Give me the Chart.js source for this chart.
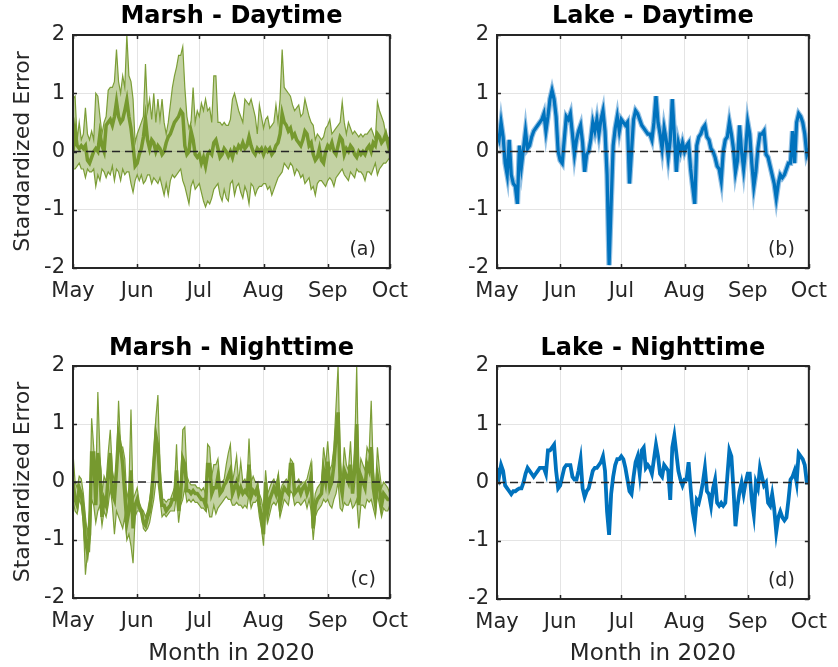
<!DOCTYPE html>
<html>
<head>
<meta charset="utf-8">
<script src="https://cdn.jsdelivr.net/npm/chart.js@4.4.1/dist/chart.umd.min.js"></script>
<style>
  html, body { margin:0; padding:0; background:#fff; }
  #wrap { position:relative; width:838px; height:667px; overflow:hidden; }
  canvas { position:absolute; }
</style>
</head>
<body>
<div id="wrap">
  <canvas id="cA" width="419" height="333" style="left:0;top:0"></canvas>
  <canvas id="cB" width="419" height="333" style="left:419px;top:0"></canvas>
  <canvas id="cC" width="419" height="334" style="left:0;top:333px"></canvas>
  <canvas id="cD" width="419" height="334" style="left:419px;top:333px"></canvas>
</div>
<script>
// ---------------- DATA ----------------
const monthTicks = [0, 31, 61, 92, 123, 153];
const monthLabels = ['May', 'Jun', 'Jul', 'Aug', 'Sep', 'Oct'];
const yTicks = [-2, -1, 0, 1, 2];
const panelTitles = ['Marsh - Daytime', 'Lake - Daytime', 'Marsh - Nighttime', 'Lake - Nighttime'];
const panelLabels = ['(a)', '(b)', '(c)', '(d)'];
const yAxisTitle = 'Stardardized Error';
const xAxisTitle = 'Month in 2020';

const marshDayMid = [0.0,0.35,0.1,0.05,0.1,0.05,0.1,-0.15,-0.2,-0.1,
0.0,0.05,0.0,0.3,0.1,0.0,0.45,0.5,0.55,0.45,
0.6,0.85,0.6,0.5,0.55,0.7,0.88,0.6,0.4,0.1,
-0.25,-0.2,-0.05,0.05,0.25,0.55,0.2,0.05,0.2,0.15,
0.0,0.1,0.05,-0.05,0.0,0.15,0.25,0.3,0.4,0.5,
0.55,0.6,0.7,0.65,0.1,-0.05,0.0,0.35,0.2,-0.05,
-0.1,-0.05,-0.2,-0.1,-0.25,-0.05,0.0,-0.05,0.15,0.2,
0.05,-0.1,-0.05,0.05,0.0,-0.08,0.0,-0.1,0.05,0.0,
0.1,0.05,0.15,0.05,0.1,0.25,0.1,0.0,-0.05,0.05,
0.0,0.05,-0.05,0.05,0.0,0.05,-0.05,0.0,0.1,0.15,
0.3,0.65,0.5,0.45,0.35,0.4,0.25,0.3,0.2,0.15,
0.1,0.2,0.35,0.3,0.1,0.15,-0.05,-0.15,-0.1,0.05,
-0.15,-0.2,0.0,0.1,0.05,0.15,0.0,-0.05,0.1,0.25,
0.2,-0.05,0.05,0.0,0.1,0.05,-0.05,-0.1,0.0,-0.05,
0.0,-0.05,0.05,0.1,0.0,0.15,0.1,0.3,0.25,0.15,
0.2,0.3,0.15,0.0];

const marshDayUp = [0.9,0.95,0.2,0.5,0.2,0.3,0.75,0.3,0.2,0.35,
0.2,1.0,0.95,0.6,0.3,0.5,0.6,1.05,1.1,1.1,
1.2,1.75,1.2,1.0,1.3,1.1,2.0,1.3,1.2,0.9,
0.15,0.3,0.4,0.5,0.6,1.5,0.7,0.9,0.55,1.0,
0.5,0.9,0.55,0.9,0.5,0.3,0.5,0.8,1.1,1.3,
1.45,1.65,1.65,1.8,1.1,0.6,0.4,0.5,1.1,0.5,
0.7,0.6,0.83,0.7,0.9,0.7,0.75,0.5,1.3,1.3,
0.5,0.5,0.45,0.5,0.45,0.45,0.55,0.9,1.0,0.85,
0.7,0.6,0.5,0.9,0.85,0.8,0.9,0.75,0.6,0.3,
0.8,0.6,0.4,0.55,0.6,0.4,0.45,0.5,0.8,0.5,
0.9,1.75,1.1,1.05,1.0,0.95,0.8,0.7,0.75,0.8,
0.6,0.65,0.9,0.75,0.6,0.5,0.45,0.2,0.3,0.25,
0.2,0.25,0.4,0.45,0.55,0.3,0.35,0.4,0.45,0.5,
0.85,0.5,0.3,0.5,0.4,0.3,0.35,0.3,0.25,0.3,
0.25,0.3,0.3,0.35,0.4,0.3,0.2,0.85,0.7,0.6,
0.5,0.3,0.25,0.2];

const marshDayLo = [-0.3,-0.3,-0.25,-0.2,-0.3,-0.3,-0.45,-0.3,-0.35,-0.35,
-0.3,-0.6,-0.4,-0.5,-0.3,-0.35,-0.45,-0.35,-0.4,-0.25,
-0.5,-0.3,-0.35,-0.5,-0.3,-0.4,-0.35,-0.35,-0.55,-0.7,
-0.5,-0.4,-0.5,-0.4,-0.55,-0.5,-0.4,-0.4,-0.55,-0.45,
-0.5,-0.55,-0.45,-0.6,-0.75,-0.55,-0.75,-0.5,-0.4,-0.45,
-0.4,-0.35,-0.3,-0.5,-0.6,-0.75,-0.9,-0.6,-0.5,-0.65,
-0.6,-0.55,-0.7,-0.85,-0.95,-0.85,-0.9,-0.8,-0.65,-0.6,
-0.55,-0.75,-0.85,-0.65,-0.8,-0.85,-0.55,-0.5,-0.75,-0.6,
-0.55,-0.7,-0.8,-0.6,-0.7,-0.9,-0.55,-0.6,-0.75,-0.65,
-0.6,-0.6,-0.55,-0.55,-0.65,-0.6,-0.75,-0.65,-0.55,-0.45,
-0.4,-0.35,-0.2,-0.25,-0.3,-0.2,-0.25,-0.4,-0.3,-0.35,
-0.45,-0.4,-0.55,-0.5,-0.45,-0.65,-0.6,-0.75,-0.55,-0.5,
-0.5,-0.55,-0.6,-0.5,-0.45,-0.5,-0.6,-0.45,-0.4,-0.35,
-0.3,-0.4,-0.45,-0.5,-0.35,-0.4,-0.45,-0.3,-0.35,-0.35,
-0.4,-0.5,-0.35,-0.35,-0.4,-0.3,-0.2,-0.4,-0.3,-0.25,
-0.2,-0.2,-0.15,-0.1];

const lakeDay = [0.3,0.2,0.5,0.25,-0.2,-0.4,0.2,-0.4,-0.55,-0.6,
-0.9,0.1,-0.25,0.05,0.35,0.05,0.1,0.25,0.35,0.4,
0.45,0.5,0.55,0.65,0.35,0.6,0.9,1.05,0.9,0.6,
0.0,-0.15,-0.2,0.2,0.6,0.55,0.65,0.3,-0.05,0.2,
0.35,0.45,0.15,-0.35,-0.05,0.0,0.2,0.5,0.35,0.55,
0.3,0.55,0.7,0.35,-0.4,-1.95,-0.9,0.1,0.4,0.6,
0.35,0.55,0.5,0.45,0.5,-0.55,0.0,0.55,0.7,0.65,
0.55,0.45,0.4,0.35,0.3,0.3,0.2,0.5,0.95,0.5,
0.3,0.05,0.4,0.2,-0.1,0.2,0.9,0.3,-0.35,0.15,
0.0,0.15,0.0,0.1,0.15,-0.3,-0.6,-0.9,0.1,0.25,
0.3,0.4,0.45,0.25,0.2,0.05,0.0,-0.1,-0.25,-0.3,
-0.5,0.0,0.2,0.25,0.5,0.3,0.05,-0.35,-0.15,0.45,
0.0,-0.3,0.05,0.5,0.3,-0.2,-0.6,-0.35,0.05,0.3,
0.3,0.35,-0.05,-0.1,-0.25,-0.4,-0.55,-0.8,-0.55,-0.4,
-0.45,-0.4,-0.3,-0.2,-0.2,0.35,-0.2,0.5,0.65,0.6,
0.5,0.3,-0.05,0.05];

const marshNightMid = [0.0,-0.3,-0.4,-0.1,-0.2,-0.5,-1.0,-1.2,-0.9,0.5,
0.5,-0.4,0.5,0.2,-0.6,-0.3,-0.4,0.1,0.5,-0.2,
-0.3,0.2,0.8,0.6,0.3,-0.2,-0.7,-0.5,0.2,-0.8,
-0.4,-0.3,-0.45,-0.5,-0.7,-0.75,-0.6,-0.5,-0.2,0.3,
0.8,0.6,0.0,-0.4,-0.4,-0.5,-0.45,-0.4,-0.3,-0.3,
0.2,-0.5,-0.2,0.4,0.3,-0.15,-0.15,-0.2,-0.15,-0.2,
-0.2,-0.25,-0.3,-0.3,-0.4,0.3,0.3,-0.2,-0.1,-0.1,
0.1,-0.2,-0.15,-0.05,0.0,0.1,0.2,-0.2,-0.1,0.0,
-0.2,-0.1,-0.2,-0.15,-0.2,0.3,-0.25,-0.15,-0.2,-0.1,
-0.4,-0.6,-0.9,0.0,-0.5,-0.3,-0.2,-0.1,-0.2,0.0,
-0.4,-0.2,-0.1,-0.15,-0.2,0.3,0.3,-0.2,-0.15,-0.1,
-0.2,-0.1,-0.05,-0.2,-0.1,0.1,-0.8,-0.4,-0.3,-0.25,
-0.2,0.2,0.0,0.35,-0.1,0.0,0.3,0.8,1.2,0.0,
-0.2,0.2,0.1,0.0,0.3,-0.2,0.2,1.0,-0.4,0.1,
0.0,-0.1,0.3,0.2,0.6,-0.1,-0.35,0.1,-0.1,-0.4,
-0.2,-0.25,-0.3,-0.3];

const marshNightUp = [0.5,0.0,-0.1,0.1,0.05,-0.2,-0.6,-0.9,-0.5,1.1,
0.6,0.0,1.55,0.5,-0.2,0.1,0.0,0.5,0.9,0.2,
0.0,0.3,1.4,0.6,0.6,0.4,-0.3,-0.1,1.25,-0.3,
-0.2,-0.1,-0.35,-0.45,-0.5,-0.6,-0.5,-0.3,0.0,0.5,
1.1,1.5,0.3,-0.3,-0.3,-0.35,-0.3,-0.3,-0.2,-0.1,
0.65,-0.3,0.0,0.9,0.95,0.1,0.0,-0.05,-0.05,-0.05,
-0.1,-0.1,-0.15,-0.1,-0.2,0.65,0.6,0.1,0.3,0.3,
0.4,0.0,0.0,0.05,0.3,0.5,0.65,0.0,0.2,0.45,
0.0,0.35,0.0,0.05,-0.05,0.75,0.0,0.1,0.0,0.0,
-0.2,-0.3,-0.5,0.2,-0.2,-0.1,0.0,0.05,-0.05,0.1,
-0.2,-0.05,0.0,0.05,0.0,0.4,0.35,0.0,0.0,0.05,
-0.05,0.0,0.0,0.05,0.2,0.35,-0.5,-0.2,-0.1,-0.05,
0.0,0.6,0.3,0.7,0.2,0.3,0.6,1.3,2.0,0.4,
0.0,0.6,0.3,0.2,0.7,0.0,0.5,2.0,0.0,0.4,
0.3,0.2,0.6,0.5,1.4,0.2,-0.2,0.6,0.2,-0.1,
0.0,-0.05,-0.1,-0.2];

const marshNightLo = [-0.3,-0.5,-0.55,-0.3,-0.4,-0.7,-1.6,-1.2,-1.2,-0.3,
-0.4,-0.7,-0.5,-0.4,-0.75,-0.5,-0.6,-0.4,-0.1,-0.4,
-0.9,-0.5,-0.6,-0.7,-0.8,-0.6,-1.0,-0.9,-1.1,-1.4,
-0.6,-0.5,-0.5,-0.55,-0.8,-0.85,-0.8,-0.7,-0.5,-0.3,
0.0,0.0,-0.3,-0.6,-0.55,-0.6,-0.55,-0.5,-0.5,-0.5,
-0.2,-0.7,-0.4,-0.3,-0.1,-0.35,-0.3,-0.35,-0.3,-0.35,
-0.35,-0.4,-0.45,-0.45,-0.5,-0.4,-0.6,-0.6,-0.4,-0.55,
-0.45,-0.4,-0.35,-0.3,-0.25,-0.3,-0.3,-0.4,-0.4,-0.35,
-0.4,-0.4,-0.45,-0.4,-0.45,-0.2,-0.45,-0.35,-0.35,-0.3,
-0.6,-0.8,-1.1,-0.4,-0.7,-0.55,-0.4,-0.35,-0.4,-0.3,
-0.6,-0.45,-0.3,-0.35,-0.4,-0.15,-0.2,-0.4,-0.35,-0.35,
-0.4,-0.35,-0.3,-0.45,-0.3,-0.5,-1.0,-0.6,-0.5,-0.45,
-0.4,-0.3,-0.35,-0.3,-0.4,-0.45,-0.3,-0.2,0.0,-0.45,
-0.5,-0.35,-0.4,-0.4,-0.3,-0.45,-0.4,-0.3,-0.8,-0.4,
-0.4,-0.45,-0.3,-0.35,-0.3,-0.45,-0.6,-0.2,-0.4,-0.6,
-0.45,-0.5,-0.5,-0.4];

const lakeNight = [0.25,0.1,0.3,0.2,-0.05,-0.1,-0.15,-0.2,-0.15,-0.15,
-0.12,-0.1,-0.1,0.0,0.15,0.25,0.2,0.15,0.1,0.15,
0.2,0.25,0.25,0.25,0.15,0.55,0.55,0.6,0.65,0.2,
-0.1,-0.05,0.1,0.25,0.3,0.3,0.3,0.1,0.05,0.05,
0.2,0.4,-0.1,-0.25,-0.15,-0.1,0.05,0.2,0.25,0.25,
0.3,0.35,0.45,0.2,-0.5,-0.9,-0.2,0.1,0.3,0.4,
0.4,0.45,0.4,0.25,0.05,-0.15,-0.2,0.1,0.35,0.45,
0.15,0.55,0.6,0.25,0.3,0.25,0.15,0.4,0.65,0.45,
0.15,0.1,0.3,0.25,0.2,-0.3,0.6,0.8,0.5,0.2,
0.05,-0.05,0.05,0.05,0.35,-0.1,-0.5,-0.7,-0.3,-0.35,
-0.2,0.0,0.25,-0.15,-0.2,-0.4,-0.1,0.05,-0.35,-0.4,
-0.35,-0.4,-0.35,0.1,0.55,0.45,-0.1,-0.75,-0.4,-0.15,
0.0,-0.2,0.0,0.15,0.15,-0.3,-0.55,0.0,-0.1,0.25,
0.1,-0.05,0.0,-0.35,-0.4,-0.2,-0.45,-0.85,-0.6,-0.5,
-0.6,-0.65,-0.6,-0.3,0.05,0.1,0.2,0.0,0.5,0.45,
0.4,0.3,0.0,0.0];

const zeroLine = [0, 0];

// ---------------- RENDER ----------------
const FONT = '"DejaVu Sans", "Liberation Sans", Arial, sans-serif';
const TXT = '#262626';
const GREEN = '#76992f';
const GREEN_EDGE = '#7c9e37';
const GREEN_FILL = 'rgba(122,156,52,0.45)';
const BLUE = '#0072BD';

const toXY = arr => arr.map((v, i) => ({ x: i, y: v }));
const zeroXY = zeroLine.map((v, i) => ({ x: monthTicks[i * (monthTicks.length - 1)], y: v }));

const framePlugin = {
  id: 'frame',
  afterDatasetsDraw(chart, args, opts) {
    const { ctx, chartArea: a, scales } = chart;
    const x = scales.x, y = scales.y;
    ctx.save();
    ctx.strokeStyle = TXT;
    ctx.lineWidth = 1.5;
    ctx.beginPath();
    x.ticks.forEach(t => {
      const px = Math.round(x.getPixelForValue(t.value)) + 0.5;
      ctx.moveTo(px, a.bottom); ctx.lineTo(px, a.bottom - 4);
      ctx.moveTo(px, a.top); ctx.lineTo(px, a.top + 4);
    });
    y.ticks.forEach(t => {
      const py = Math.round(y.getPixelForValue(t.value)) + 0.5;
      ctx.moveTo(a.left, py); ctx.lineTo(a.left + 4, py);
      ctx.moveTo(a.right, py); ctx.lineTo(a.right - 4, py);
    });
    ctx.stroke();
    ctx.lineWidth = 2;
    ctx.strokeRect(a.left, a.top, a.right - a.left, a.bottom - a.top);
    ctx.fillStyle = TXT;
    ctx.font = '19px ' + FONT;
    ctx.textAlign = 'right';
    ctx.textBaseline = 'alphabetic';
    ctx.fillText(opts.label, a.right - 14, a.bottom - 13);
    ctx.restore();
  }
};

function makeChart(id, p) {
  const xScale = {
    type: 'linear', min: monthTicks[0], max: monthTicks[monthTicks.length - 1],
    afterBuildTicks: s => { s.ticks = monthTicks.map(v => ({ value: v })); },
    ticks: {
      callback: v => monthLabels[monthTicks.indexOf(v)],
      autoSkip: false, maxRotation: 0, minRotation: 0,
      padding: 11, color: TXT, font: { size: 21, family: FONT }
    },
    grid: { color: '#e4e4e4', lineWidth: 1, drawTicks: false },
    border: { display: false },
    title: p.bottom ? { display: true, text: xAxisTitle, color: TXT,
      font: { size: 23, family: FONT, lineHeight: 1 }, padding: { top: 0, bottom: 1 } } : { display: false },
    afterFit: s => { s.height = p.xh; }
  };
  const yScale = {
    min: -2, max: 2,
    afterBuildTicks: s => { s.ticks = yTicks.map(v => ({ value: v })); },
    ticks: { padding: 8, color: TXT, font: { size: 21, family: FONT } },
    grid: { color: '#e4e4e4', lineWidth: 1, drawTicks: false },
    border: { display: false },
    title: p.left ? { display: true, text: yAxisTitle, color: TXT,
      font: { size: 22, family: FONT, lineHeight: 1 }, padding: { top: 12, bottom: 0 } } : { display: false },
    afterFit: s => { s.width = p.yw; }
  };
  new Chart(document.getElementById(id), {
    type: 'line',
    data: { datasets: p.datasets },
    options: {
      responsive: false, animation: false, devicePixelRatio: 1,
      layout: { padding: { left: 0, right: p.rp, top: 0, bottom: 0 } },
      elements: { point: { radius: 0 }, line: { tension: 0 } },
      scales: { x: xScale, y: yScale },
      plugins: {
        legend: { display: false }, tooltip: { enabled: false },
        title: { display: true, text: p.title, color: '#000', fullSize: false,
          font: { size: 24, weight: 'bold', family: FONT, lineHeight: 1 },
          padding: p.tpad },
        frame: { label: p.label }
      }
    },
    plugins: [framePlugin]
  });
}

function zeroDs() {
  return { data: zeroXY, borderColor: '#262626', borderWidth: 1.5, borderDash: [8, 5], fill: false, clip: 0 };
}
function marshSets(mid, up, lo) {
  return [
    zeroDs(),
    { data: toXY(mid), borderColor: GREEN, borderWidth: 3.5, fill: false, clip: 0 },
    { data: toXY(up), borderColor: GREEN_EDGE, borderWidth: 1.2, backgroundColor: GREEN_FILL, fill: '+1', clip: 0 },
    { data: toXY(lo), borderColor: GREEN_EDGE, borderWidth: 1.2, fill: false, clip: 0 }
  ];
}
function lakeSets(vals, halo, w) {
  const sets = [
    zeroDs(),
    { data: toXY(vals), borderColor: BLUE, borderWidth: w, fill: false, clip: 0 }
  ];
  if (halo) sets.push({ data: toXY(vals), borderColor: 'rgba(40,130,200,0.5)', borderWidth: 5.5, fill: false, clip: 0 });
  return sets;
}

makeChart('cA', { title: panelTitles[0], label: panelLabels[0], left: true, bottom: false,
  yw: 73, xh: 65, rp: 27, tpad: { top: 5, bottom: 6 }, datasets: marshSets(marshDayMid, marshDayUp, marshDayLo) });
makeChart('cB', { title: panelTitles[1], label: panelLabels[1], left: false, bottom: false,
  yw: 78, xh: 65, rp: 23, tpad: { top: 5, bottom: 6 }, datasets: lakeSets(lakeDay, true, 3.2) });
makeChart('cC', { title: panelTitles[2], label: panelLabels[2], left: true, bottom: true,
  yw: 73, xh: 69, rp: 27, tpad: { top: 4, bottom: 5 }, datasets: marshSets(marshNightMid, marshNightUp, marshNightLo) });
makeChart('cD', { title: panelTitles[3], label: panelLabels[3], left: false, bottom: true,
  yw: 78, xh: 68, rp: 23, tpad: { top: 4, bottom: 5 }, datasets: lakeSets(lakeNight, false, 3.8) });
</script>
</body>
</html>
